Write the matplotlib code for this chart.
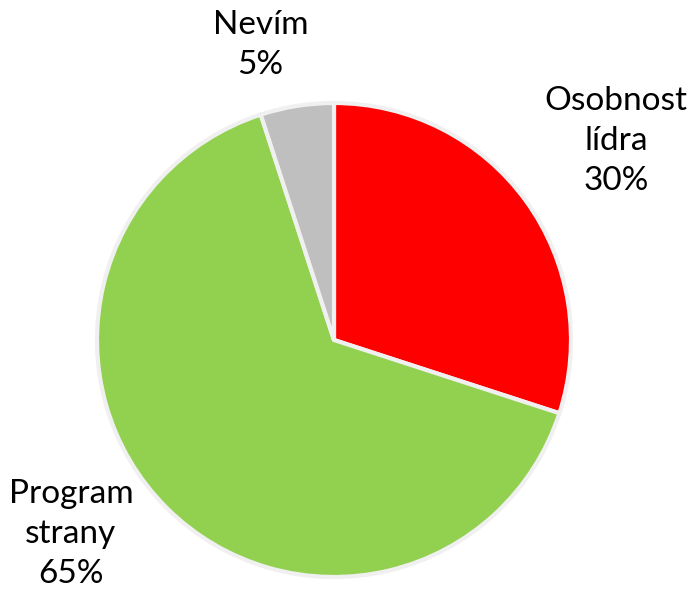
import matplotlib
matplotlib.use("Agg")
import matplotlib.pyplot as plt

labels = ["Osobnost\nlídra", "Program\nstrany", "Nevím"]
values = [30, 65, 5]
colors = ["#FF0000", "#92D050", "#BFBFBF"]
# label centres, in pie-radius units
label_pos = [(1.19, 0.84), (-1.11, -0.82), (-0.31, 1.245)]

plt.rcParams['font.family'] = ['Lato', 'DejaVu Sans']

fig = plt.figure(figsize=(6.94, 5.94), dpi=100)
r_px = 237
ax = fig.add_axes([(334 - r_px) / 694, (594 - 340 - r_px) / 594, 2 * r_px / 694, 2 * r_px / 594])

ax.pie(values, colors=colors, startangle=90, counterclock=False, radius=1,
       wedgeprops=dict(edgecolor="#F0F0F0", linewidth=3))

for lab, v, (x, y) in zip(labels, values, label_pos):
    ax.text(x, y, f"{lab}\n{v}%", ha="center", va="center", fontsize=24,
            linespacing=1.42, color="#000000", clip_on=False)

ax.set_xlim(-1.0, 1.0)
ax.set_ylim(-1.0, 1.0)
ax.axis("off")

fig.savefig("out.png", dpi=100)
